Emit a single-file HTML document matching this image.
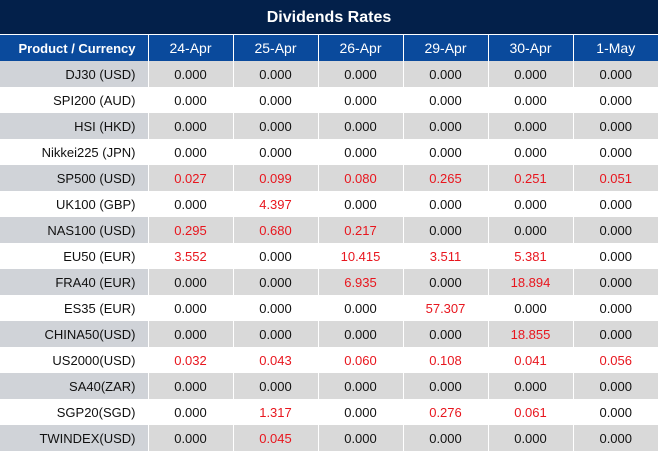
<!DOCTYPE html><html><head><style>
body{margin:0;width:658px;height:450px;overflow:hidden;font-family:"Liberation Sans",sans-serif;background:#fff}
.t{height:34px;background:#03204a;color:#fff;font-weight:bold;font-size:16px;text-align:center;line-height:36px;border-bottom:1px solid #fff}
table{border-collapse:collapse;table-layout:fixed;width:658px}
td{height:26px;padding:0;font-size:13px;text-align:center;border-left:1px solid #fff;color:#111}
tr.h td{height:26px;background:#0a4a9c;color:#fff;font-size:14px}
tr.h td:first-child{font-weight:bold;font-size:13px}
td:first-child{text-align:right;padding-right:12px;border-left:none}
tr.g td{background:#d9d9d9}tr.g td:first-child{background:#d0d3d8}
.r{color:#e8161e}
</style></head><body><div class="t">Dividends Rates</div>
<table><colgroup><col style="width:148px"><col style="width:85px"><col style="width:85px"><col style="width:85px"><col style="width:85px"><col style="width:85px"><col style="width:85px"></colgroup>
<tr class="h"><td>Product / Currency</td><td>24-Apr</td><td>25-Apr</td><td>26-Apr</td><td>29-Apr</td><td>30-Apr</td><td>1-May</td></tr>
<tr class="g"><td>DJ30 (USD)</td><td>0.000</td><td>0.000</td><td>0.000</td><td>0.000</td><td>0.000</td><td>0.000</td></tr>
<tr><td>SPI200 (AUD)</td><td>0.000</td><td>0.000</td><td>0.000</td><td>0.000</td><td>0.000</td><td>0.000</td></tr>
<tr class="g"><td>HSI (HKD)</td><td>0.000</td><td>0.000</td><td>0.000</td><td>0.000</td><td>0.000</td><td>0.000</td></tr>
<tr><td>Nikkei225 (JPN)</td><td>0.000</td><td>0.000</td><td>0.000</td><td>0.000</td><td>0.000</td><td>0.000</td></tr>
<tr class="g"><td>SP500 (USD)</td><td class="r">0.027</td><td class="r">0.099</td><td class="r">0.080</td><td class="r">0.265</td><td class="r">0.251</td><td class="r">0.051</td></tr>
<tr><td>UK100 (GBP)</td><td>0.000</td><td class="r">4.397</td><td>0.000</td><td>0.000</td><td>0.000</td><td>0.000</td></tr>
<tr class="g"><td>NAS100 (USD)</td><td class="r">0.295</td><td class="r">0.680</td><td class="r">0.217</td><td>0.000</td><td>0.000</td><td>0.000</td></tr>
<tr><td>EU50 (EUR)</td><td class="r">3.552</td><td>0.000</td><td class="r">10.415</td><td class="r">3.511</td><td class="r">5.381</td><td>0.000</td></tr>
<tr class="g"><td>FRA40 (EUR)</td><td>0.000</td><td>0.000</td><td class="r">6.935</td><td>0.000</td><td class="r">18.894</td><td>0.000</td></tr>
<tr><td>ES35 (EUR)</td><td>0.000</td><td>0.000</td><td>0.000</td><td class="r">57.307</td><td>0.000</td><td>0.000</td></tr>
<tr class="g"><td>CHINA50(USD)</td><td>0.000</td><td>0.000</td><td>0.000</td><td>0.000</td><td class="r">18.855</td><td>0.000</td></tr>
<tr><td>US2000(USD)</td><td class="r">0.032</td><td class="r">0.043</td><td class="r">0.060</td><td class="r">0.108</td><td class="r">0.041</td><td class="r">0.056</td></tr>
<tr class="g"><td>SA40(ZAR)</td><td>0.000</td><td>0.000</td><td>0.000</td><td>0.000</td><td>0.000</td><td>0.000</td></tr>
<tr><td>SGP20(SGD)</td><td>0.000</td><td class="r">1.317</td><td>0.000</td><td class="r">0.276</td><td class="r">0.061</td><td>0.000</td></tr>
<tr class="g"><td>TWINDEX(USD)</td><td>0.000</td><td class="r">0.045</td><td>0.000</td><td>0.000</td><td>0.000</td><td>0.000</td></tr>
</table></body></html>
